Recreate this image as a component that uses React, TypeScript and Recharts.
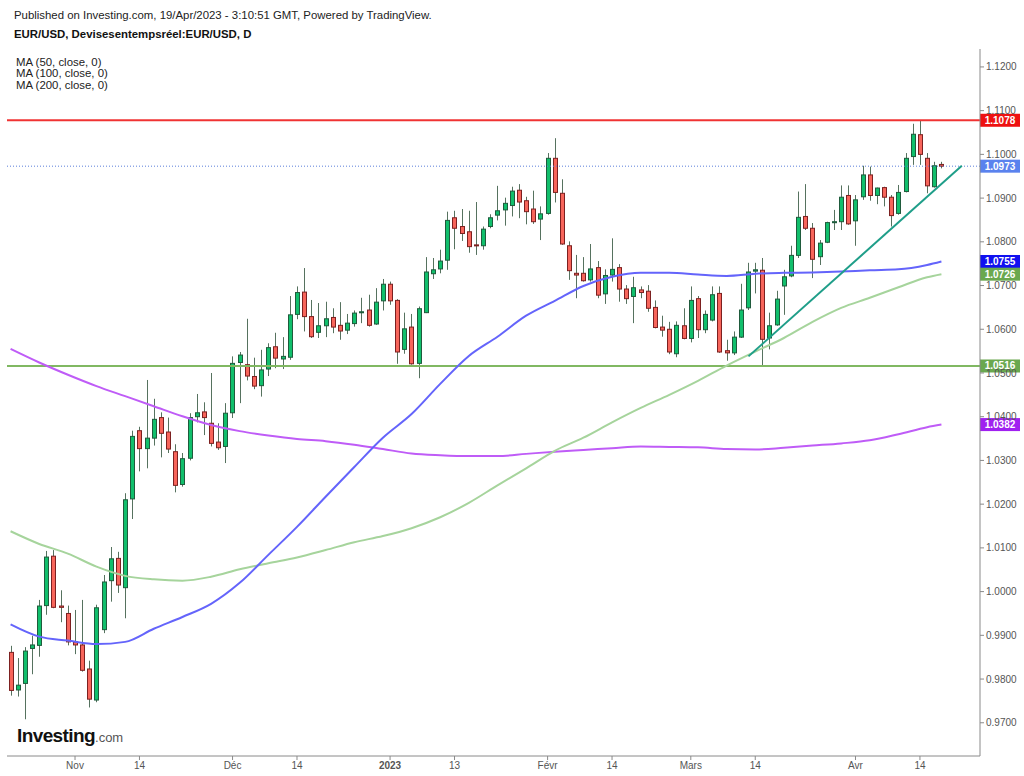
import React from 'react';
import { ComposedChart, Bar, Line, XAxis, YAxis, ReferenceLine } from 'recharts';

const FONT = '"Liberation Sans", Arial, sans-serif';

// weekdays from 19 Oct 2022 to 19 Apr 2023 (one candle each)
const dates: string[] = [];
for (let t = Date.UTC(2022, 9, 19); t <= Date.UTC(2023, 3, 19); t += 86400000) {
    const d = new Date(t);
    const wd = d.getUTCDay();
    if (wd !== 0 && wd !== 6) dates.push(d.toISOString().slice(0, 10));
}

const opens = [
    0.9861, 0.9775, 0.9790, 0.9870, 0.9877, 0.9968, 1.0081, 0.9967, 0.9950, 0.9885,
    0.9878, 0.9823, 0.9752, 0.9913, 1.0025, 1.0076, 1.0009, 1.0212, 1.0368, 1.0327,
    1.0351, 1.0398, 1.0365, 1.0320, 1.0245, 1.0305, 1.0400, 1.0411, 1.0385, 1.0342,
    1.0332, 1.0409, 1.0524, 1.0519, 1.0492, 1.0471, 1.0509, 1.0560, 1.0532, 1.0536,
    1.0634, 1.0685, 1.0629, 1.0593, 1.0608, 1.0627, 1.0609, 1.0598, 1.0613, 1.0638,
    1.0644, 1.0612, 1.0665, 1.0703, 1.0666, 1.0554, 1.0605, 1.0522, 1.0638, 1.0727,
    1.0738, 1.0758, 1.0855, 1.0835, 1.0823, 1.0793, 1.0791, 1.0835, 1.0861, 1.0873,
    1.0883, 1.0918, 1.0894, 1.0875, 1.0852, 1.0865, 1.0991, 1.0911, 1.0791, 1.0728,
    1.0728, 1.0713, 1.0741, 1.0681, 1.0724, 1.0741, 1.0692, 1.0675, 1.0690, 1.0687,
    1.0650, 1.0605, 1.0600, 1.0544, 1.0608, 1.0579, 1.0670, 1.0599, 1.0621, 1.0682,
    1.0551, 1.0546, 1.0582, 1.0649, 1.0733, 1.0735, 1.0580, 1.0610, 1.0699, 1.0722,
    1.0769, 1.0858, 1.0831, 1.0766, 1.0799, 1.0844, 1.0846, 1.0906, 1.0848, 1.0903,
    1.0953, 1.0906, 1.0924, 1.0902, 1.0865, 1.0915, 1.0995, 1.1045, 1.0991, 1.0926,
    1.0977,
];
const highs = [
    0.9876, 0.9848, 0.9873, 0.9899, 0.9981, 1.0093, 1.0095, 1.0003, 0.9968, 0.9958,
    0.9981, 0.9842, 0.9970, 1.0038, 1.0102, 1.0091, 1.0225, 1.0368, 1.0377, 1.0484,
    1.0441, 1.0410, 1.0398, 1.0337, 1.0317, 1.0408, 1.0452, 1.0433, 1.0500, 1.0385,
    1.0431, 1.0538, 1.0548, 1.0624, 1.0535, 1.0553, 1.0568, 1.0592, 1.0582, 1.0676,
    1.0698, 1.0740, 1.0667, 1.0660, 1.0663, 1.0648, 1.0662, 1.0635, 1.0643, 1.0672,
    1.0679, 1.0694, 1.0715, 1.0709, 1.0669, 1.0638, 1.0635, 1.0652, 1.0765, 1.0763,
    1.0782, 1.0869, 1.0871, 1.0875, 1.0871, 1.0891, 1.0835, 1.0863, 1.0928, 1.0901,
    1.0926, 1.0932, 1.0903, 1.0917, 1.0881, 1.1003, 1.1037, 1.0943, 1.0801, 1.0770,
    1.0765, 1.0795, 1.0756, 1.0737, 1.0808, 1.0749, 1.0701, 1.0720, 1.0698, 1.0701,
    1.0666, 1.0631, 1.0617, 1.0618, 1.0648, 1.0698, 1.0676, 1.0643, 1.0698, 1.0698,
    1.0576, 1.0595, 1.0704, 1.0752, 1.0752, 1.0763, 1.0638, 1.0688, 1.0736, 1.0791,
    1.0915, 1.0932, 1.0843, 1.0804, 1.0846, 1.0873, 1.0929, 1.0929, 1.0907, 1.0974,
    1.0972, 1.0924, 1.0926, 1.0907, 1.0930, 1.1003, 1.1070, 1.1078, 1.1003, 1.0983,
    1.0983,
];
const lows = [
    0.9762, 0.9760, 0.9708, 0.9811, 0.9851, 0.9947, 0.9962, 0.9930, 0.9877, 0.9857,
    0.9817, 0.9735, 0.9747, 0.9905, 0.9977, 0.9997, 0.9939, 1.0166, 1.0275, 1.0282,
    1.0334, 1.0307, 1.0317, 1.0227, 1.0240, 1.0300, 1.0387, 1.0358, 1.0332, 1.0324,
    1.0294, 1.0397, 1.0431, 1.0483, 1.0463, 1.0446, 1.0493, 1.0511, 1.0509, 1.0530,
    1.0623, 1.0595, 1.0580, 1.0580, 1.0582, 1.0591, 1.0576, 1.0589, 1.0606, 1.0614,
    1.0606, 1.0610, 1.0643, 1.0656, 1.0521, 1.0544, 1.0519, 1.0488, 1.0637, 1.0715,
    1.0728, 1.0736, 1.0783, 1.0802, 1.0775, 1.0770, 1.0782, 1.0831, 1.0849, 1.0837,
    1.0858, 1.0854, 1.0840, 1.0841, 1.0804, 1.0862, 1.0890, 1.0793, 1.0713, 1.0671,
    1.0709, 1.0709, 1.0671, 1.0658, 1.0709, 1.0663, 1.0658, 1.0614, 1.0671, 1.0640,
    1.0602, 1.0583, 1.0543, 1.0536, 1.0577, 1.0570, 1.0580, 1.0591, 1.0618, 1.0546,
    1.0528, 1.0541, 1.0580, 1.0644, 1.0682, 1.0516, 1.0554, 1.0608, 1.0633, 1.0719,
    1.0763, 1.0827, 1.0717, 1.0747, 1.0797, 1.0827, 1.0827, 1.0839, 1.0791, 1.0896,
    1.0894, 1.0886, 1.0881, 1.0835, 1.0862, 1.0913, 1.0976, 1.0976, 1.0911, 1.0924,
    1.0968,
];
const closes = [
    0.9774, 0.9786, 0.9864, 0.9878, 0.9967, 1.0079, 0.9964, 0.9964, 0.9885, 0.9878,
    0.9820, 0.9754, 0.9963, 1.0022, 1.0075, 1.0015, 1.0210, 1.0355, 1.0327, 1.0351,
    1.0394, 1.0362, 1.0326, 1.0243, 1.0304, 1.0398, 1.0409, 1.0398, 1.0339, 1.0329,
    1.0408, 1.0522, 1.0541, 1.0493, 1.0470, 1.0507, 1.0558, 1.0534, 1.0538, 1.0633,
    1.0684, 1.0629, 1.0583, 1.0608, 1.0624, 1.0605, 1.0596, 1.0614, 1.0637, 1.0640,
    1.0609, 1.0662, 1.0703, 1.0665, 1.0548, 1.0601, 1.0521, 1.0647, 1.0731, 1.0736,
    1.0756, 1.0849, 1.0831, 1.0819, 1.0789, 1.0791, 1.0829, 1.0855, 1.0871, 1.0888,
    1.0916, 1.0891, 1.0869, 1.0846, 1.0864, 1.0991, 1.0913, 1.0795, 1.0734, 1.0724,
    1.0711, 1.0738, 1.0678, 1.0723, 1.0737, 1.0692, 1.0670, 1.0695, 1.0684, 1.0648,
    1.0604, 1.0598, 1.0548, 1.0609, 1.0579, 1.0666, 1.0599, 1.0634, 1.0679, 1.0548,
    1.0546, 1.0582, 1.0644, 1.0731, 1.0736, 1.0577, 1.0608, 1.0669, 1.0720, 1.0769,
    1.0856, 1.0831, 1.0760, 1.0797, 1.0844, 1.0846, 1.0902, 1.0841, 1.0896, 1.0953,
    1.0906, 1.0923, 1.0902, 1.0860, 1.0913, 1.0991, 1.1046, 1.1000, 1.0928, 1.0974,
    1.0973,
];

// moving averages at every 4th candle
const maIdx = [0, 4, 8, 12, 16, 20, 24, 28, 32, 36, 40, 44, 48, 52, 56, 60, 64, 68, 72, 76,
    80, 84, 88, 92, 96, 100, 104, 108, 112, 116, 120, 124, 128, 130];
const ma50 = [0.9925, 0.9897, 0.9888, 0.9880, 0.9885, 0.9915, 0.9942, 0.9972, 1.0020, 1.0084,
    1.0148, 1.0217, 1.0285, 1.0352, 1.0406, 1.0475, 1.0539, 1.0583, 1.0631, 1.0665,
    1.0699, 1.0720, 1.0729, 1.0729, 1.0725, 1.0722, 1.0727, 1.0729, 1.0730, 1.0732,
    1.0735, 1.0737, 1.0747, 1.0755];
const ma100 = [1.0138, 1.0109, 1.0087, 1.0057, 1.0036, 1.0028, 1.0025, 1.0034, 1.0051, 1.0065,
    1.0078, 1.0095, 1.0113, 1.0127, 1.0145, 1.0170, 1.0203, 1.0243, 1.0282, 1.0322,
    1.0352, 1.0387, 1.0420, 1.0450, 1.0482, 1.0517, 1.0549, 1.0580, 1.0617, 1.0649,
    1.0672, 1.0696, 1.0719, 1.0726];
const ma200 = [1.0555, 1.0524, 1.0496, 1.0470, 1.0447, 1.0424, 1.0401, 1.0381, 1.0367, 1.0357,
    1.0349, 1.0344, 1.0336, 1.0326, 1.0316, 1.0312, 1.0310, 1.0310, 1.0315, 1.0320,
    1.0324, 1.0328, 1.0332, 1.0331, 1.0330, 1.0326, 1.0325, 1.0329, 1.0334, 1.0339,
    1.0346, 1.0360, 1.0376, 1.0382];

const tickDates = ['2022-11-01', '2022-11-14', '2022-12-01', '2022-12-14', '2023-01-02', '2023-01-13',
    '2023-02-01', '2023-02-14', '2023-03-01', '2023-03-14', '2023-04-03', '2023-04-14'];
const tickLabels = ['Nov', '14', 'Déc', '14', '2023', '13', 'Févr', '14', 'Mars', '14', 'Avr', '14'];
const yTicks = [0.97, 0.98, 0.99, 1.0, 1.01, 1.02, 1.03, 1.04, 1.05, 1.06, 1.07, 1.08, 1.09, 1.1, 1.11, 1.12];

const resistance = 1.1078;
const support = 1.0516;
const lastPrice = 1.0973;
const trendLine = [{ x: 103.05, y: 1.0538 }, { x: 132.85, y: 1.0974 }];

const data = dates.map((date, i) => {
    const k = maIdx.indexOf(i);
    return {
        date,
        i,
        o: opens[i],
        h: highs[i],
        l: lows[i],
        c: closes[i],
        range: [lows[i], highs[i]],
        ma50: k >= 0 ? ma50[k] : null,
        ma100: k >= 0 ? ma100[k] : null,
        ma200: k >= 0 ? ma200[k] : null,
    };
});

const Candle = (props: any) => {
    const { x, y, width, height, payload } = props;
    if (!payload || x == null) return null;
    const { o, h, l, c } = payload;
    const top = height < 0 ? y + height : y;
    const hh = Math.abs(height);
    const k = h === l ? 0 : hh / (h - l);
    const bTop = top + (h - Math.max(o, c)) * k;
    const bBot = top + (h - Math.min(o, c)) * k;
    const cx = Math.round(x + width / 2) + 0.5;
    const up = c >= o;
    return (
        <g>
            <line x1={cx} x2={cx} y1={top} y2={top + hh} stroke="#56725f" strokeWidth={1} />
            <rect
                x={cx - 2}
                y={bTop}
                width={4}
                height={Math.max(bBot - bTop, 1)}
                fill={up ? '#11bf6c' : '#f7655b'}
                stroke={up ? '#1f5b3c' : '#7c2020'}
                strokeWidth={1}
            />
        </g>
    );
};

const Badge = ({ viewBox, color, text }: any) => {
    if (!viewBox) return null;
    const x = viewBox.x + viewBox.width;
    const y = viewBox.y;
    return (
        <g>
            <rect x={x} y={y - 6.5} width={40} height={13} fill={color} />
            <text x={x + 20} y={y} dy="0.35em" textAnchor="middle" fill="#fff" fontSize={10} fontWeight="bold" fontFamily={FONT}>
                {text}
            </text>
        </g>
    );
};

const XTick = ({ x, y, payload }: any) => {
    const idx = tickDates.indexOf(payload.value);
    const label = idx >= 0 ? tickLabels[idx] : '';
    return (
        <text x={x} y={y} dy="0.71em" textAnchor="middle" fill="#555" fontSize={10} fontFamily={FONT} fontWeight={label === '2023' ? 'bold' : 'normal'}>
            {label}
        </text>
    );
};

export default function App() {
    return (
        <div style={{ position: 'absolute', left: 0, top: 0, width: 1024, height: 776, background: '#fff' }}>
            <ComposedChart width={1024} height={776} data={data} margin={{ top: 49, right: 0, left: 7, bottom: 0 }}>
                <XAxis
                    dataKey="date"
                    type="category"
                    ticks={tickDates}
                    interval={0}
                    padding={{ left: 0, right: 35 }}
                    height={20}
                    tickSize={4}
                    tickMargin={2}
                    axisLine={{ stroke: '#8a8a8a' }}
                    tickLine={{ stroke: '#8a8a8a' }}
                    tick={<XTick />}
                />
                <XAxis xAxisId="num" dataKey="i" type="number" domain={[-0.5, 135.39]} hide />
                <YAxis
                    orientation="right"
                    width={44}
                    domain={[0.9624, 1.1241]}
                    allowDataOverflow
                    ticks={yTicks}
                    interval={0}
                    tickFormatter={(v: number) => v.toFixed(4)}
                    tickSize={4}
                    tickMargin={2}
                    axisLine={{ stroke: '#8a8a8a' }}
                    tickLine={{ stroke: '#8a8a8a' }}
                    tick={{ fill: '#555', fontSize: 10, fontFamily: FONT }}
                />
                <ReferenceLine y={support} stroke="#80b862" strokeWidth={2} />
                <ReferenceLine y={resistance} stroke="#f03333" strokeWidth={2} />
                <ReferenceLine y={lastPrice} stroke="#5b7fdb" strokeWidth={1} strokeDasharray="1 2" />
                <Line dataKey="ma200" type="monotone" stroke="#bf5cf7" strokeWidth={2} dot={false} connectNulls isAnimationActive={false} />
                <Line dataKey="ma100" type="monotone" stroke="#a6d49c" strokeWidth={2} dot={false} connectNulls isAnimationActive={false} />
                <Line dataKey="ma50" type="monotone" stroke="#6464fb" strokeWidth={2} dot={false} connectNulls isAnimationActive={false} />
                <Bar dataKey="range" barSize={5} shape={(p: any) => <Candle {...p} />} isAnimationActive={false} />
                <ReferenceLine xAxisId="num" segment={trendLine} stroke="#1f9e89" strokeWidth={2} />
                <ReferenceLine y={resistance} stroke="none" label={<Badge color="#ee1111" text="1.1078" />} />
                <ReferenceLine y={lastPrice} stroke="none" label={<Badge color="#5a82ee" text="1.0973" />} />
                <ReferenceLine y={1.0755} stroke="none" label={<Badge color="#1010f0" text="1.0755" />} />
                <ReferenceLine y={1.0726} stroke="none" label={<Badge color="#6aa84f" text="1.0726" />} />
                <ReferenceLine y={support} stroke="none" label={<Badge color="#6aa84f" text="1.0516" />} />
                <ReferenceLine y={1.0382} stroke="none" label={<Badge color="#a020f0" text="1.0382" />} />
            </ComposedChart>
            <svg width={1024} height={776} style={{ position: 'absolute', left: 0, top: 0, pointerEvents: 'none' }}>
                <text x={14} y={19} fontSize={11.4} fontFamily={FONT} fill="#222">
                    Published on Investing.com, 19/Apr/2023 - 3:10:51 GMT, Powered by TradingView.
                </text>
                <text x={14} y={38} fontSize={11.4} fontWeight="bold" fontFamily={FONT} fill="#111">
                    EUR/USD, Devisesentempsréel:EUR/USD, D
                </text>
                <text x={16} y={65.5} fontSize={11.4} fontFamily={FONT} fill="#222">MA (50, close, 0)</text>
                <text x={16} y={77.2} fontSize={11.4} fontFamily={FONT} fill="#222">MA (100, close, 0)</text>
                <text x={16} y={88.9} fontSize={11.4} fontFamily={FONT} fill="#222">MA (200, close, 0)</text>
                <text x={17} y={742} fontSize={19} fontWeight="bold" fontFamily={FONT} fill="#111" letterSpacing={-0.6}>
                    Investing<tspan fontSize={13} fontWeight="normal" fill="#555" letterSpacing={0}>.com</tspan>
                </text>
            </svg>
        </div>
    );
}
